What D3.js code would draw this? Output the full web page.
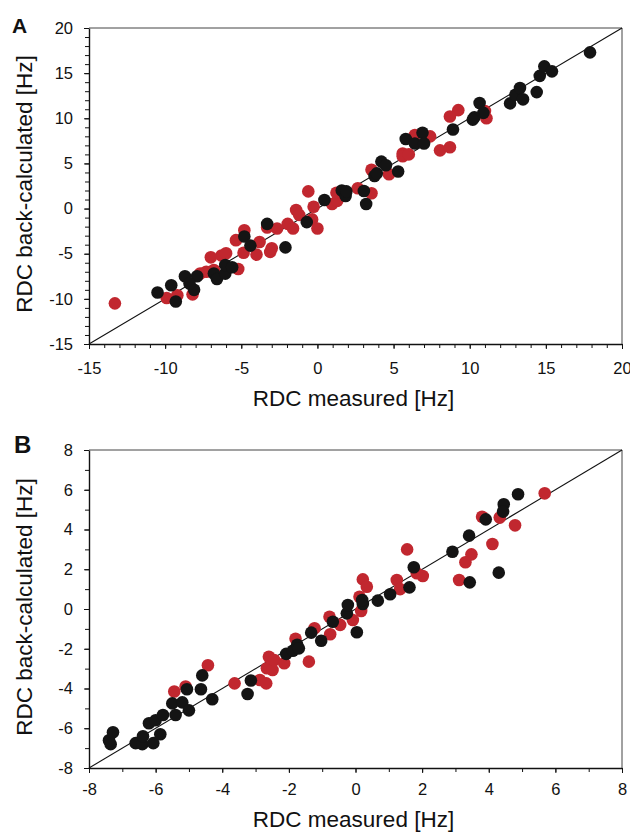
<!DOCTYPE html>
<html>
<head>
<meta charset="utf-8">
<script src="https://cdn.jsdelivr.net/npm/d3@7"></script>
<style>
  body { margin: 0; background: #fff; }
  svg { display: block; font-family: "Liberation Sans", Arial, sans-serif; }
  .tick text { font-size: 16.5px; fill: #111; }
  .axis path, .axis line { stroke: #111; }
</style>
</head>
<body>
<div id="chart"></div>
<script>
// Panel A: measured vs back-calculated RDC (Hz)
const aRedX = [-13.3, -9.9, -9.2, -8.2, -7.7, -7.3, -6.8, -7.0, -6.3, -6.0, -5.2, -5.35, -4.8, -3.8, -4.0, -4.85, -3.1, -3.3, -2.65, -1.95, -1.6, -0.35, 0.0, -1.4, -1.2, -3.0, -0.25, -0.6, 0.96, 1.3, 1.25, 2.65, 3.55, 3.55, 4.7, 5.6, 5.6, 6.0, 6.4, 7.4, 8.05, 8.7, 9.25, 8.7, 11.0, 11.1];
const aRedY = [-10.5, -9.9, -9.6, -9.5, -7.2, -7.0, -6.8, -5.4, -5.2, -4.95, -6.7, -3.5, -2.4, -3.7, -5.1, -4.9, -4.8, -2.1, -2.2, -1.7, -2.2, -1.2, -2.2, -0.15, -0.7, -4.4, 0.2, 1.9, 0.5, 0.85, 1.76, 2.25, 1.7, 4.3, 3.8, 6.1, 5.8, 6.0, 8.15, 8.0, 6.45, 6.8, 10.9, 10.2, 10.8, 10.0];
const aBlackX = [-10.5, -9.6, -9.3, -8.7, -7.9, -8.1, -8.4, -6.8, -6.6, -6.05, -6.05, -5.6, -4.8, -4.4, -3.3, -0.7, -2.1, 0.46, 1.6, 1.85, 1.9, 3.05, 3.2, 3.75, 3.9, 4.2, 4.5, 5.3, 5.8, 6.9, 6.4, 7.0, 8.9, 10.65, 10.9, 10.3, 10.2, 12.65, 13.0, 13.3, 13.5, 14.4, 14.6, 14.9, 15.4, 17.9];
const aBlackY = [-9.3, -8.5, -10.3, -7.5, -7.5, -9.0, -8.3, -7.2, -7.8, -7.2, -6.25, -6.5, -3.1, -4.1, -1.7, -1.5, -4.3, 0.95, 2.0, 1.4, 1.9, 1.95, 0.5, 3.6, 3.9, 5.2, 4.8, 4.1, 7.7, 8.4, 7.2, 7.2, 8.75, 11.7, 10.6, 10.1, 9.85, 11.65, 12.6, 13.35, 12.1, 12.9, 14.7, 15.75, 15.2, 17.3];
const aTicks = [-15, -10, -5, 0, 5, 10, 15, 20];

// Panel B
const bRedX = [-5.44, -5.1, -4.43, -3.63, -2.87, -2.68, -2.6, -2.66, -2.49, -2.44, -2.14, -1.8, -1.4, -1.23, -0.78, -0.76, -0.46, -0.08, 0.12, 0.17, 0.22, 0.34, 1.24, 1.34, 2.02, 1.84, 1.55, 5.68, 4.33, 3.8, 4.79, 4.11, 3.48, 3.3, 3.11];
const bRedY = [-4.15, -3.9, -2.83, -3.74, -3.57, -3.74, -2.4, -2.98, -3.07, -2.57, -2.73, -1.5, -2.65, -0.97, -0.39, -1.27, -0.8, -0.55, 0.62, -0.1, 1.49, 1.12, 1.46, 1.0, 1.66, 1.8, 3.0, 5.82, 4.6, 4.64, 4.21, 3.27, 2.75, 2.35, 1.46];
const bBlackX = [-7.35, -7.4, -7.28, -6.6, -6.4, -6.38, -6.07, -5.86, -6.2, -6.0, -5.78, -5.4, -5.5, -5.2, -5.0, -5.06, -4.64, -4.6, -4.3, -3.24, -3.14, -2.08, -1.88, -1.75, -1.7, -1.33, -1.03, -0.68, -0.26, -0.23, 0.04, 0.22, 0.2, 0.67, 1.04, 1.62, 1.75, 4.88, 4.45, 4.43, 3.91, 3.41, 2.91, 3.43, 4.3];
const bBlackY = [-6.8, -6.6, -6.2, -6.75, -6.8, -6.4, -6.75, -6.3, -5.75, -5.6, -5.33, -5.33, -4.75, -4.7, -5.1, -4.04, -4.04, -3.34, -4.54, -4.28, -3.6, -2.26, -2.1, -1.8, -1.98, -1.19, -1.6, -0.64, -0.22, 0.2, -1.17, 0.25, 0.45, 0.42, 0.74, 1.09, 2.1, 5.77, 5.27, 4.9, 4.51, 3.69, 2.88, 1.34, 1.83];
const bTicks = [-8, -6, -4, -2, 0, 2, 4, 6, 8];

const RED = "#c1272f", BLACK = "#141414";
const W = 630, H = 832;

const svg = d3.select("#chart").append("svg").attr("width", W).attr("height", H);

function zip(xs, ys) { return xs.map((x, i) => [x, ys[i]]); }
const plain = d => String(d);   // keep ascii hyphen like the original figure

function drawPanel(o) {
  const x = d3.scaleLinear().domain(o.domain).range([o.left, o.right]);
  const y = d3.scaleLinear().domain(o.domain).range([o.bottom, o.top]);
  const g = svg.append("g");
  const minor = d3.range(o.domain[0], o.domain[1] + 0.001, 1);

  // minor ticks
  g.append("g").attr("class", "axis")
    .attr("transform", `translate(0,${o.bottom})`)
    .call(d3.axisBottom(x).tickValues(minor).tickSize(4).tickSizeOuter(0).tickFormat(""))
    .call(s => s.select(".domain").remove());
  g.append("g").attr("class", "axis")
    .attr("transform", `translate(${o.left},0)`)
    .call(d3.axisLeft(y).tickValues(minor).tickSize(4).tickSizeOuter(0).tickFormat(""))
    .call(s => s.select(".domain").remove());

  // major ticks + labels
  g.append("g").attr("class", "axis")
    .attr("transform", `translate(0,${o.bottom})`)
    .call(d3.axisBottom(x).tickValues(o.ticks).tickSize(5).tickSizeOuter(0).tickPadding(o.xPad).tickFormat(plain))
    .call(s => s.select(".domain").attr("stroke-width", 1.4));
  g.append("g").attr("class", "axis")
    .attr("transform", `translate(${o.left},0)`)
    .call(d3.axisLeft(y).tickValues(o.ticks).tickSize(5).tickSizeOuter(0).tickPadding(11).tickFormat(plain))
    .call(s => s.select(".domain").attr("stroke-width", 1.4));

  // top and right frame
  g.append("line").attr("x1", o.left).attr("x2", o.right).attr("y1", o.top).attr("y2", o.top)
    .attr("stroke", "#444").attr("stroke-width", 1);
  g.append("line").attr("x1", o.right).attr("x2", o.right).attr("y1", o.top).attr("y2", o.bottom)
    .attr("stroke", "#444").attr("stroke-width", 1);

  // identity line
  g.append("line")
    .attr("x1", x(o.domain[0])).attr("y1", y(o.domain[0]))
    .attr("x2", x(o.domain[1])).attr("y2", y(o.domain[1]))
    .attr("stroke", "#111").attr("stroke-width", 1.1);

  g.append("g").selectAll("circle").data(zip(o.redX, o.redY)).join("circle")
    .attr("cx", d => x(d[0])).attr("cy", d => y(d[1])).attr("r", 6.3).attr("fill", RED);
  g.append("g").selectAll("circle").data(zip(o.blackX, o.blackY)).join("circle")
    .attr("cx", d => x(d[0])).attr("cy", d => y(d[1])).attr("r", 6.3).attr("fill", BLACK);

  // titles
  g.append("text").attr("x", (o.left + o.right) / 2 - 2).attr("y", o.xTitleY)
    .attr("text-anchor", "middle").attr("font-size", 22.5).attr("fill", "#111")
    .text("RDC measured [Hz]");
  g.append("text")
    .attr("transform", `translate(32,${(o.top + o.bottom) / 2 - 2}) rotate(-90)`)
    .attr("text-anchor", "middle").attr("font-size", 22.5).attr("fill", "#111")
    .text("RDC back-calculated [Hz]");
  g.append("text").attr("x", o.letterX).attr("y", o.letterY)
    .attr("font-size", o.letterSize).attr("font-weight", "bold").attr("fill", "#111")
    .text(o.letter);
}

drawPanel({
  domain: [-15, 20], ticks: aTicks, left: 89, right: 622, top: 28, bottom: 344,
  redX: aRedX, redY: aRedY, blackX: aBlackX, blackY: aBlackY,
  xPad: 13, xTitleY: 406, letter: "A", letterX: 12, letterY: 33, letterSize: 21
});

drawPanel({
  domain: [-8, 8], ticks: bTicks, left: 89, right: 622, top: 450, bottom: 768,
  redX: bRedX, redY: bRedY, blackX: bBlackX, blackY: bBlackY,
  xPad: 10, xTitleY: 827, letter: "B", letterX: 14, letterY: 453, letterSize: 24
});
</script>
</body>
</html>
